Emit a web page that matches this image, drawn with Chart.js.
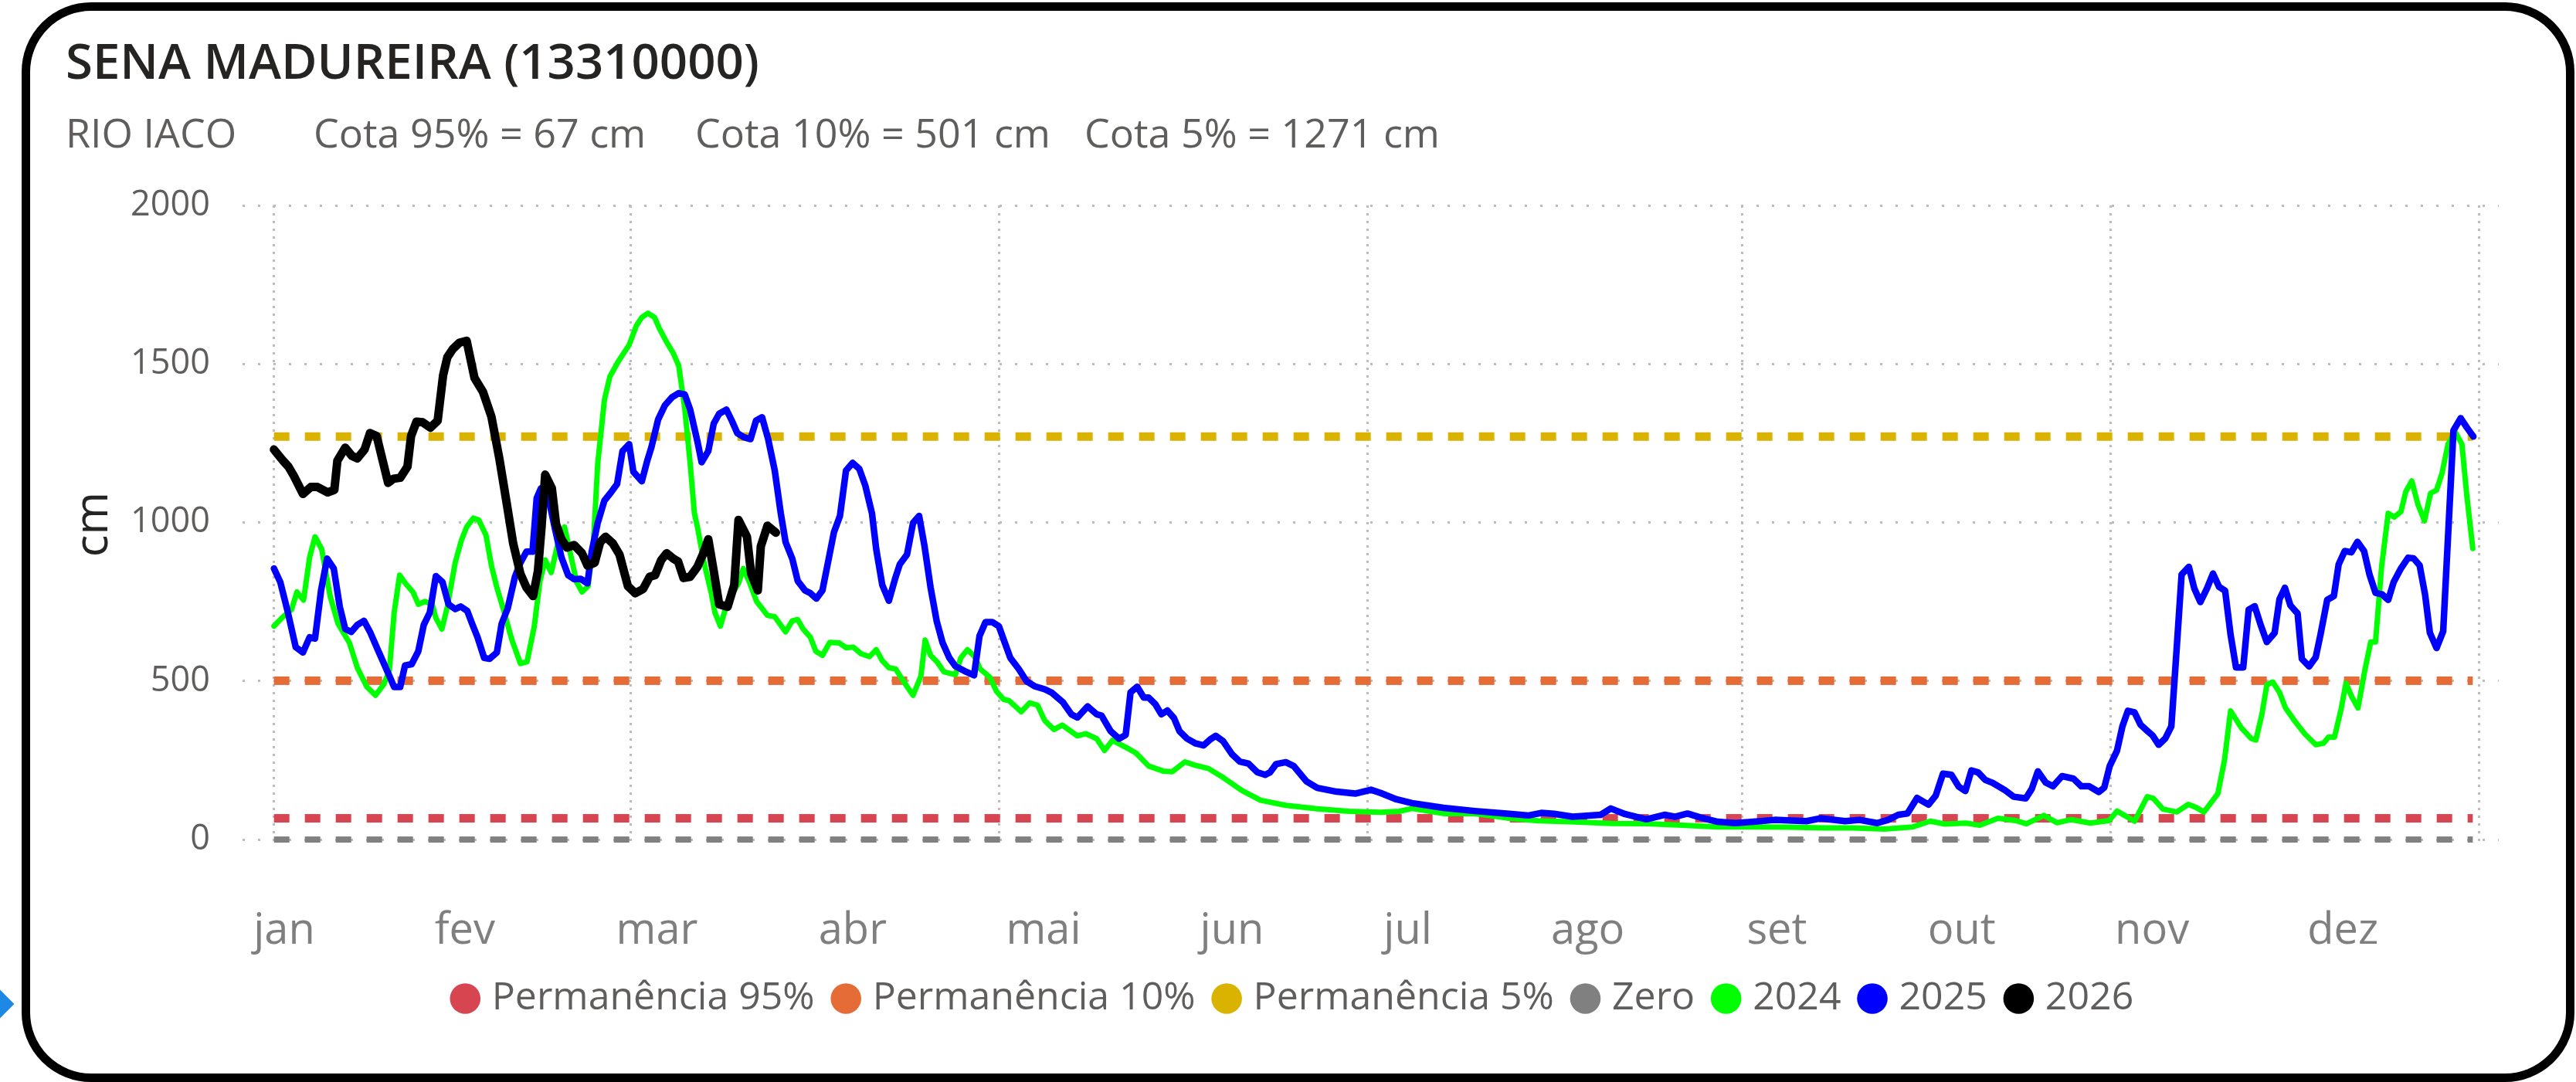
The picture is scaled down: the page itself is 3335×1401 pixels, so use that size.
<!DOCTYPE html>
<html lang="pt-BR">
<head>
<meta charset="utf-8">
<script src="https://cdn.jsdelivr.net/npm/chart.js@4/dist/chart.umd.min.js"></script>
<style>
  html, body { margin: 0; padding: 0; background: #fff; }
  body { width: 3335px; height: 1401px; position: relative; overflow: hidden; font-family: "Open Sans", sans-serif; }
  .frame { position: absolute; left: 28px; top: 3px; width: 3305px; height: 1398px; box-sizing: border-box;
           border: 11px solid #000; border-radius: 90px; }
  .handle { position: absolute; left: -13px; top: 1287px; width: 26px; height: 26px; background: #1e88e5; transform: rotate(45deg); }
  .title { position: absolute; left: 85px; top: 46px; font-size: 63.5px; line-height: 63.5px; font-weight: 600; color: #252423; white-space: nowrap; }
  .sub { position: absolute; top: 145px; font-size: 52px; line-height: 52px; color: #605E5C; white-space: nowrap; }
  #wrap { position: absolute; left: 0; top: 0; width: 3335px; height: 1401px; }
</style>
</head>
<body>
<div class="frame"></div>
<div class="handle"></div>
<div class="title">SENA MADUREIRA (13310000)</div>
<div class="sub" style="left:85px">RIO IACO</div>
<div class="sub" style="left:406px">Cota 95% = 67 cm</div>
<div class="sub" style="left:900px">Cota 10% = 501 cm</div>
<div class="sub" style="left:1404px">Cota 5% = 1271 cm</div>
<div id="wrap"><canvas id="c"></canvas></div>
<script>
// x = day of year (0 = 1 jan), y = cota in cm
const MONTH_LABELS = ["jan", "fev", "mar", "abr", "mai", "jun", "jul", "ago", "set", "out", "nov", "dez"];
const MONTH_TICK_DAYS = [1.7, 31.6, 63.4, 95.8, 127.4, 158.6, 187.7, 217.5, 248.8, 279.4, 310.9, 342.5];
const GRID_DAYS = [0, 59, 120, 181, 243, 304, 365];
const Y_TICKS = [0, 500, 1000, 1500, 2000];

const REF_DAYS = [0, 364];
const COTA_95 = 67, COTA_10 = 501, COTA_5 = 1271, ZERO = 0;

const DAYS_2024 = [0,1.3,2.9,3.8,4.9,5.9,6.8,7.9,9.3,10.6,12.5,13.8,15.4,16.8,18.2,19.1,19.9,20.8,21.8,23,23.9,25,26.2,26.8,27.8,28.7,30,31,31.9,33,33.9,35.1,36,36.9,38,39.4,40.8,41.9,43.1,44,44.9,45.9,47,48.1,49,50.1,51,52,52.9,53.6,54.7,55.6,57,58.8,60,60.9,61.9,63,63.8,65,66.1,67,68,68.9,69.6,70.1,71.2,72.4,73,73.9,75.1,76.2,76.9,77.7,78.7,79.9,81.7,82.9,84.7,85.8,86.7,87.6,88.8,89.7,90.8,92,93.6,94.7,95.9,97.2,98.6,99.7,100.7,101.8,102.9,104.1,105,105.8,107.1,107.8,108.7,109.8,110.9,112.8,113.7,114.8,116,116.9,118.5,119.6,120.8,121.7,123.7,125.1,126.4,127.6,129.1,130.5,133,134.4,136.2,137.5,138.8,141.2,142.7,144.8,147.2,148.7,150.8,152.4,154.7,157.1,160.2,163.3,167.5,172.7,178,183.2,186.3,188.4,193.6,198.8,204.1,209.3,214.5,221.4,227.2,233.1,239,244.9,250.7,256.6,261.3,266.6,271.3,274.2,276.6,280.1,282.4,285.4,288.3,290.1,293,295.2,297.5,300.7,303.8,305.1,308,310.1,311.1,312.7,315,316.9,318.2,319.5,321.8,322.9,323.9,325.7,327.3,328.1,329.1,329.9,330.9,332,333,334.6,336.2,338,339.3,340.1,341.1,342.2,343,344,345,346.1,347.1,347.9,348.9,350,351,352.1,352.9,353.9,354.9,356,357,358,358.9,359.9,361.1,362.2,363,364];
const VALS_2024 = [673,699,725,781,755,890,955,916,768,681,620,542,481,455,490,533,716,834,807,781,742,751,742,699,664,734,873,942,986,1014,1008,960,864,795,725,629,555,561,673,812,882,842,934,986,908,812,781,799,942,1186,1386,1460,1508,1560,1621,1647,1660,1647,1612,1569,1534,1495,1360,1186,1029,986,873,777,716,673,751,786,808,855,812,751,707,703,655,690,694,664,638,594,581,622,620,605,607,586,577,599,564,542,538,503,477,455,516,629,581,560,529,520,573,599,577,538,512,468,442,438,403,431,424,375,347,361,327,334,318,281,313,289,273,232,216,214,245,235,224,196,155,124,108,97,89,86,89,98,82,82,68,59,56,51,50,45,40,40,39,37,37,33,40,58,49,52,45,67,60,50,76,53,63,52,60,90,58,135,130,96,87,111,101,87,145,251,406,352,319,314,396,488,497,464,415,372,333,299,304,323,323,411,493,449,415,531,623,623,860,1029,1017,1034,1097,1131,1058,1005,1092,1102,1155,1247,1285,1247,1087,918];

const DAYS_2025 = [0,1.05,2.2,3.6,4.8,5.9,6.8,7.8,8.8,9.9,10.9,11.8,12.8,13.8,14.9,15.9,17.3,18.9,19.9,20.9,21.7,22.8,23.9,24.8,25.8,26.8,27.9,28.9,30,30.9,32,32.8,33.7,34.8,35.7,36.9,37.7,38.7,39.9,40.8,41.8,42.8,43.5,44.2,45.1,46.5,47.6,48.7,49.7,50.8,51.9,52.6,53.6,54.7,55.8,56.8,57.7,58.8,59.5,60.9,61.8,62.5,63.6,64.7,65.9,67,68,68.9,70.1,70.8,71.9,72.8,73.7,74.9,75.8,76.7,77.8,78.9,79.8,80.8,81.8,82.9,83.9,84.7,85.8,86.7,87.9,88.8,89.8,90.8,91.8,92.7,93.7,94.7,95.8,96.9,97.9,99,99.7,100.7,101.8,102.8,103.6,104.8,105.8,106.8,107.7,108.7,109.7,110.7,111.8,112.8,114.6,115.9,116.8,117.8,118.9,120,121,121.9,123.3,124.6,126,127.6,128.7,130.6,132,133,134.7,136.2,137,138.5,139.9,141,141.8,142.9,144,144.8,145.9,146.9,147.9,149,149.9,151.1,152.6,153.9,155,155.9,157.1,158.6,159.9,161.3,162.8,164.1,164.9,165.9,167.5,168.8,170.9,172.7,175.9,179,181.6,183.2,185.8,188.4,193.6,198.8,204.1,207.7,209.8,211.9,215,219.6,221.3,223.7,227.2,230.2,231.9,234,236.1,239,241.9,244.9,248.4,253.7,256,260.1,262.5,265.4,267.2,268.9,270.4,272,273.9,275.1,276.3,277.7,278.9,280,281,282.1,283.3,284.5,286.6,288,290,291,292,293.3,294.5,296,297.9,299.2,300.5,302.1,303,303.9,305.1,306,306.9,308,309,310.1,311,312,313.1,314.1,314.8,315.8,317,317.9,318.9,320,321,322,323,323.9,324.8,326,326.9,327.9,328.9,329.9,331.2,332,332.9,333.8,335,335.7,336.9,338,338.8,339.9,341,341.8,342.8,343.9,344.9,346,346.9,347.9,349,350,350.9,352.1,353.3,354.2,355.2,356.1,356.9,358,359.1,360.8,362,363,364.1];
const VALS_2025 = [855,812,725,607,590,638,634,786,886,855,734,664,655,677,690,655,594,525,481,481,549,553,594,677,716,831,812,742,727,735,721,681,638,573,570,590,681,729,829,873,908,908,1077,1108,1108,982,890,834,821,822,808,908,999,1069,1095,1121,1225,1247,1160,1130,1195,1238,1325,1369,1395,1408,1404,1356,1256,1190,1225,1312,1343,1356,1321,1282,1269,1263,1321,1332,1264,1164,1029,938,886,816,786,777,760,786,882,969,1021,1164,1188,1169,1116,1029,916,803,753,821,868,899,999,1021,925,795,690,620,573,547,529,518,642,686,686,673,620,573,538,499,483,474,464,433,395,385,420,395,391,342,318,330,464,482,448,448,427,395,407,383,342,319,303,297,316,327,311,269,246,240,212,204,212,238,244,232,184,163,151,145,157,147,127,115,100,90,82,76,84,81,72,78,98,80,64,78,72,82,70,56,52,56,62,58,67,58,62,52,62,78,82,131,110,139,208,204,167,153,218,212,188,179,155,135,130,160,215,180,168,200,192,168,168,150,164,232,280,357,406,401,362,343,328,299,319,357,551,836,860,792,749,792,839,797,785,647,543,543,725,736,676,623,652,758,794,739,713,570,546,575,647,756,768,868,910,906,939,910,836,778,773,756,812,855,889,887,865,773,652,604,657,1290,1329,1300,1271];

const DAYS_2026 = [0,1.5,2.4,3.3,4.8,6.1,7.2,8.9,10,10.5,11.8,12.9,13.8,15,15.9,17,18.9,19.8,20.9,22.1,22.7,23.6,24.6,25.9,27.1,28,28.7,29.6,30.7,31.9,33.2,34.6,36,37.3,38.5,39.6,40.8,41.8,42.9,43.7,44.3,44.9,46,46.7,47.6,48.5,49.7,51,51.9,53.1,54,54.9,56.1,57.2,58.6,59.8,61.1,62.2,63.1,64.1,65,66.1,66.9,67.8,68.9,70.1,71,71.9,72.8,73.7,75.1,76.2,76.9,78.3,79,80.1,80.6,81.7,83.1];
const VALS_2026 = [1230,1195,1176,1147,1090,1112,1112,1095,1103,1195,1236,1210,1202,1230,1282,1273,1125,1138,1141,1176,1273,1318,1316,1299,1321,1464,1521,1547,1567,1573,1456,1412,1334,1203,1064,934,838,795,768,847,986,1151,1108,995,947,921,929,903,864,873,938,955,934,899,799,777,790,829,834,881,903,886,877,825,829,860,899,947,847,742,734,803,1008,955,838,786,925,990,968];

const RED = "#D64550", ORANGE = "#E66C37", YELLOW = "#D9B300", GRAY = "#808080";
const GREEN = "#00FF00", BLUE = "#0000FF", BLACK = "#000000";
const GRID = "#BDBDBD", FONT = "'Open Sans', sans-serif";

const pts = (days, vals) => days.map((d, i) => ({ x: d, y: vals[i] }));
const flat = (v) => REF_DAYS.map((d) => ({ x: d, y: v }));

function refLine(label, value, color, width, order) {
  return { label, data: flat(value), borderColor: color, backgroundColor: color, borderWidth: width,
    borderDash: [20, 20], borderCapStyle: "butt", pointRadius: 0, order };
}
function yearLine(label, days, vals, color, width, order) {
  return { label, data: pts(days, vals), borderColor: color, backgroundColor: color, borderWidth: width,
    borderJoinStyle: "round", borderCapStyle: "round", pointRadius: 0, tension: 0, order };
}

const X_MIN = -5.2, X_MAX = 368.3;

new Chart(document.getElementById("c"), {
  type: "line",
  data: { datasets: [
    refLine("Permanência 95%", COTA_95, RED, 11, 6),
    refLine("Permanência 10%", COTA_10, ORANGE, 11, 5),
    refLine("Permanência 5%", COTA_5, YELLOW, 11, 4),
    refLine("Zero", ZERO, GRAY, 8, 7),
    yearLine("2024", DAYS_2024, VALS_2024, GREEN, 7, 2),
    yearLine("2025", DAYS_2025, VALS_2025, BLUE, 8.5, 1),
    yearLine("2026", DAYS_2026, VALS_2026, BLACK, 11, 0),
  ] },
  options: {
    responsive: true, maintainAspectRatio: false, animation: false,
    layout: { padding: { top: 266, right: 100, bottom: 73, left: 120 } },
    plugins: {
      tooltip: { enabled: false },
      legend: {
        position: "bottom",
        labels: {
          usePointStyle: true, pointStyle: "circle", boxWidth: 19, boxHeight: 28, padding: 31,
          color: "#605E5C", font: { family: FONT, size: 50 },
          sort: (a, b) => a.datasetIndex - b.datasetIndex,
          generateLabels: (chart) => Chart.defaults.plugins.legend.labels.generateLabels(chart)
            .map((it) => ({ ...it, lineWidth: 0, lineDash: [], pointStyle: "circle" })),
        },
      },
    },
    scales: {
      x: {
        type: "linear", position: "bottom", min: X_MIN, max: X_MAX,
        afterBuildTicks: (s) => { s.ticks = MONTH_TICK_DAYS.map((v) => ({ value: v })); },
        afterFit: (s) => { s.height = 145; },
        grid: { display: false }, border: { display: false },
        ticks: { autoSkip: false, maxRotation: 0, padding: 72, color: "#7F7F7F",
          font: { family: FONT, size: 56 }, callback: (v, i) => MONTH_LABELS[i] },
      },
      xg: {
        type: "linear", position: "top", min: X_MIN, max: X_MAX,
        afterBuildTicks: (s) => { s.ticks = GRID_DAYS.map((v) => ({ value: v })); },
        afterFit: (s) => { s.height = 0; },
        ticks: { display: false },
        grid: { color: GRID, lineWidth: 3, drawTicks: false },
        border: { display: false, dash: [3, 7] },
      },
      y: {
        min: -12, max: 2000,
        afterBuildTicks: (s) => { s.ticks = Y_TICKS.map((v) => ({ value: v })); },
        afterFit: (s) => { s.width = 194; },
        grid: { color: GRID, lineWidth: 3, drawTicks: false },
        border: { display: false, dash: [3, 17] },
        ticks: { padding: 42, color: "#605E5C", font: { family: FONT, size: 45 }, callback: (v) => String(v) },
        title: { display: true, text: "cm", color: "#252423", font: { family: FONT, size: 60 },
          padding: { top: -34, bottom: 0 } },
      },
    },
  },
});
</script>
</body>
</html>
